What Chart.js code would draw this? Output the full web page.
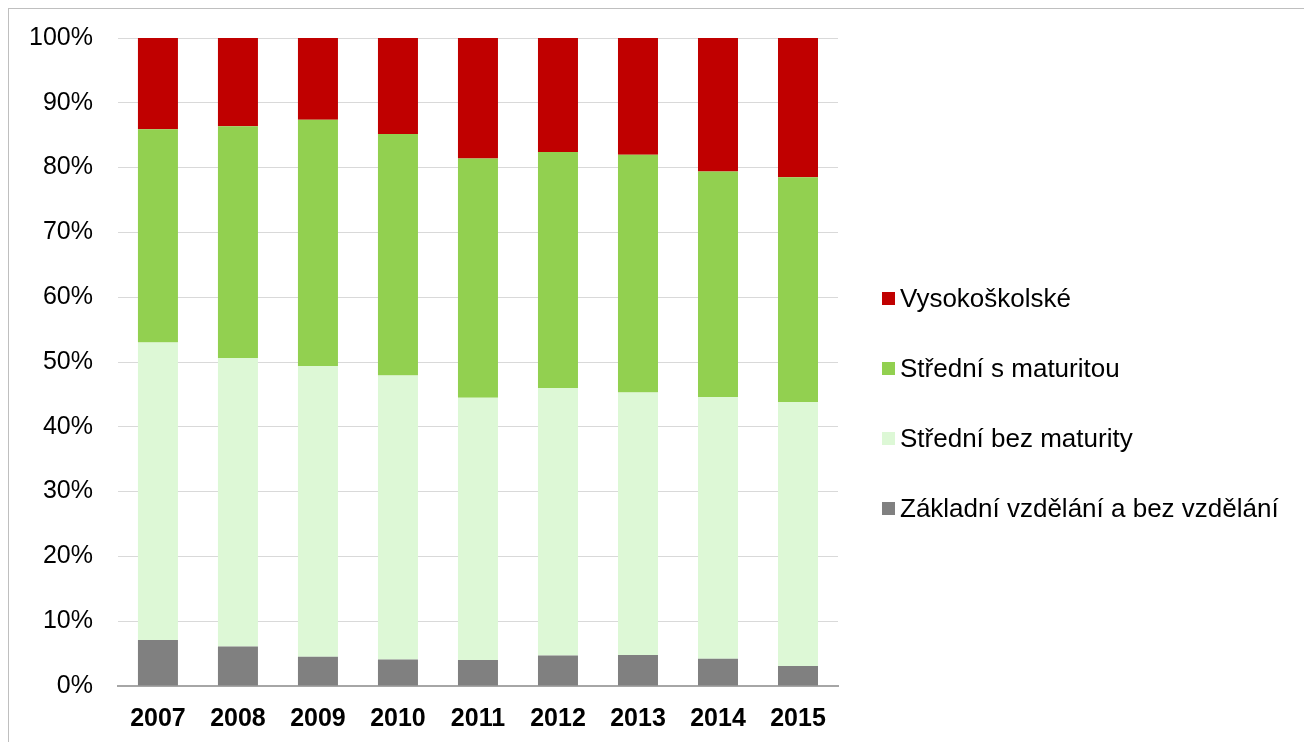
<!DOCTYPE html>
<html>
<head>
<meta charset="utf-8">
<script src="https://cdn.jsdelivr.net/npm/chart.js@4"></script>
<style>
  html, body { margin: 0; padding: 0; background: #fff; overflow: hidden; }
  #frame {
    position: absolute; left: 8px; top: 8px; width: 1400px; height: 900px;
    border-top: 1px solid #bfbfbf; border-left: 1px solid #bfbfbf;
  }
  #wrap { position: absolute; left: 0; top: -2px; width: 1304px; height: 766px; }
  #legend {
    position: absolute; left: 882px; top: 283px;
    font-family: 'Liberation Sans', Arial, sans-serif; font-size: 26px; color: #000;
  }
  .lg-item { display: flex; align-items: center; height: 30px; margin-bottom: 40px; }
  .lg-box { width: 13px; height: 13px; margin-right: 5px; }
</style>
</head>
<body>
<div id="frame"></div>
<div id="wrap"><canvas id="mainChart"></canvas></div>
<div id="legend"></div>
<script>
// categories
const years = ['2007', '2008', '2009', '2010', '2011', '2012', '2013', '2014', '2015'];

// series values (% share)
const zakladni      = [7.1, 6.1, 4.5, 4.1, 4.0, 4.7, 4.8, 4.2, 3.1];
const bezMaturity   = [45.9, 44.5, 44.9, 43.8, 40.5, 41.3, 40.5, 40.4, 40.7];
const sMaturitou    = [32.9, 35.8, 38.0, 37.3, 36.9, 36.4, 36.7, 34.8, 34.7];
const vysokoskolske = [14.1, 13.6, 12.6, 14.8, 18.6, 17.6, 18.0, 20.6, 21.5];

// y tick values
const yTicks = [0, 10, 20, 30, 40, 50, 60, 70, 80, 90, 100];

const FONT = "'Liberation Sans', Arial, sans-serif";

const series = [
  { label: 'Základní vzdělání a bez vzdělání', data: zakladni,      color: '#808080' },
  { label: 'Střední bez maturity',             data: bezMaturity,   color: '#ddf8d6' },
  { label: 'Střední s maturitou',              data: sMaturitou,    color: '#92d050' },
  { label: 'Vysokoškolské',                    data: vysokoskolske, color: '#c00000' },
];

const ctx = document.getElementById('mainChart').getContext('2d');

new Chart(ctx, {
  type: 'bar',
  data: {
    labels: years,
    datasets: series.map(s => ({
      label:              s.label,
      data:               s.data,
      backgroundColor:    s.color,
      borderWidth:        0,
      barPercentage:      0.5,
      categoryPercentage: 1,
    })),
  },
  options: {
    responsive:          true,
    maintainAspectRatio: false,
    animation:           false,
    layout: { padding: { left: 4, right: 466, top: 23, bottom: 12 } },
    plugins: {
      legend:  { display: false },
      tooltip: { enabled: false },
    },
    scales: {
      x: {
        stacked: true,
        grid:    { display: false, drawTicks: false },
        border:  { display: true, color: '#a6a6a6', width: 2 },
        ticks:   {
          color:       '#000',
          font:        { family: FONT, size: 25, weight: 'bold' },
          padding:     18,
          maxRotation: 0,
        },
      },
      y: {
        stacked: true,
        min:     0,
        max:     100,
        afterBuildTicks: scale => { scale.ticks = yTicks.map(v => ({ value: v })); },
        grid:    { color: '#d9d9d9', lineWidth: 1, drawTicks: false },
        border:  { display: false },
        ticks:   {
          color:    '#000',
          font:     { family: FONT, size: 25 },
          padding:  25,
          callback: v => v + '%',
        },
      },
    },
  },
});

// legend, top entry is the top stack segment
const legendEl = document.getElementById('legend');
series.slice().reverse().forEach(s => {
  const row = document.createElement('div');
  row.className = 'lg-item';
  row.innerHTML = '<span class="lg-box" style="background:' + s.color + '"></span><span>' + s.label + '</span>';
  legendEl.appendChild(row);
});
</script>
</body>
</html>
